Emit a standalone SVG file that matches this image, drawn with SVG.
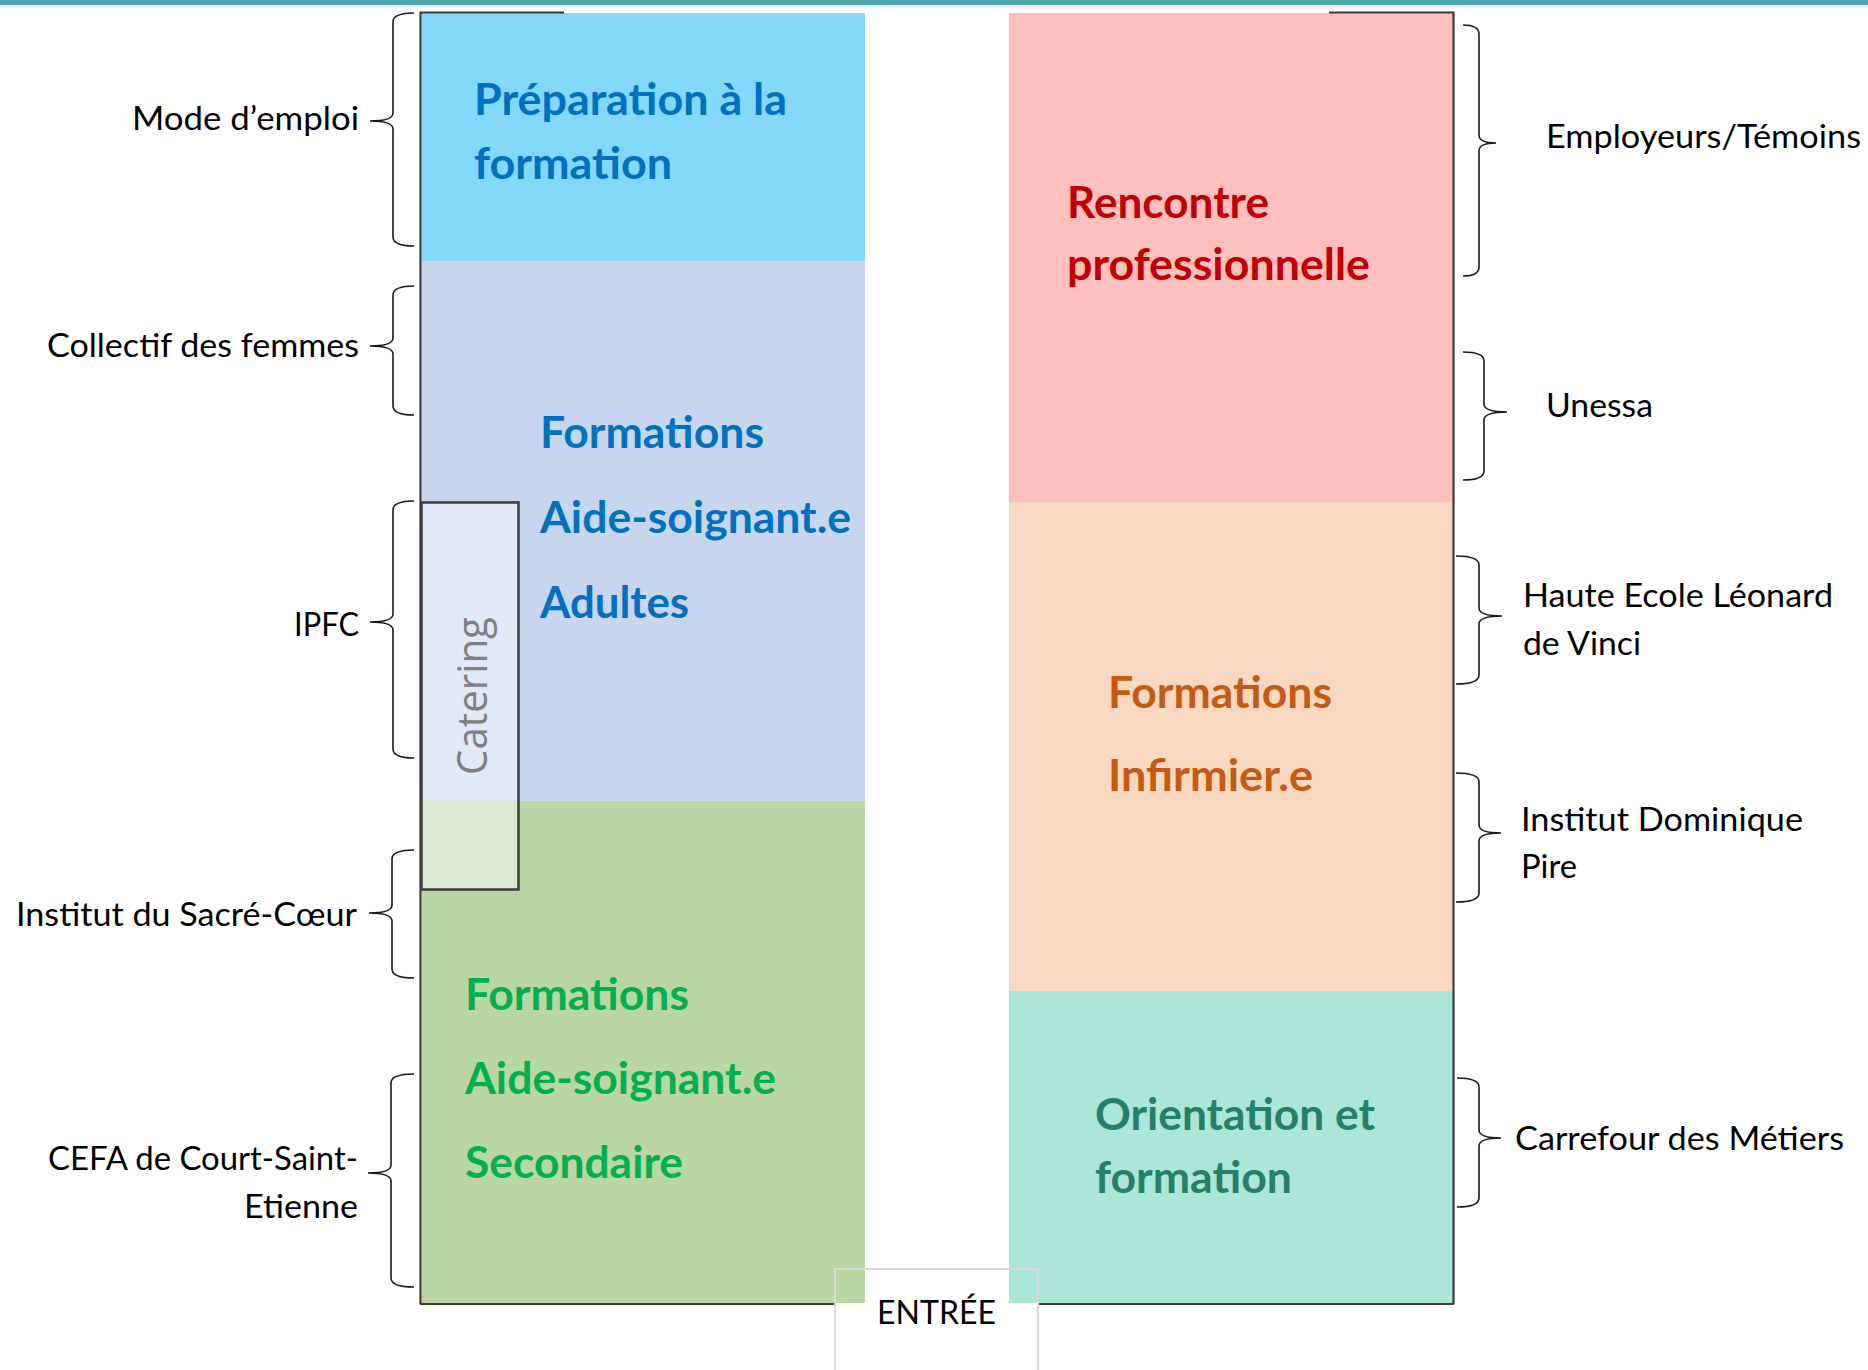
<svg xmlns="http://www.w3.org/2000/svg" width="1868" height="1370" viewBox="0 0 1868 1370">
<defs>
<linearGradient id="shadow" x1="0" y1="0" x2="0" y2="1">
<stop offset="0" stop-color="#000" stop-opacity="0.12"/>
<stop offset="1" stop-color="#000" stop-opacity="0"/>
</linearGradient>
</defs>
<style>
.bold{font-family:Lato,"Open Sans","Liberation Sans",sans-serif;font-weight:bold;font-size:43px}
.lab{font-family:Lato,"Open Sans","Liberation Sans",sans-serif;font-size:33px;fill:#000}
.end{text-anchor:end}
.brace{fill:none;stroke:#1a1a1a;stroke-width:1.6}
.frame{stroke:#3a3a3a;stroke-width:2.2;fill:none}
.blue{fill:#0070C0}
.green{fill:#00B050}
.red{fill:#C00000}
.orange{fill:#C55A11}
.teal{fill:#24806A}
</style>
<rect width="1868" height="1370" fill="#fff"/>
<rect x="0" y="0" width="1868" height="5" fill="#50A9AA"/>
<rect x="0" y="5" width="1868" height="4" fill="url(#shadow)"/>

<g id="left-column">
<g id="preparation">
<rect x="422" y="13" width="443" height="248" fill="#83D7F8"/>
<text class="bold blue" x="474" y="115" textLength="313" lengthAdjust="spacingAndGlyphs">Préparation à la</text>
<text class="bold blue" x="474" y="179" textLength="198" lengthAdjust="spacingAndGlyphs">formation</text>
</g>
<g id="formations-adultes">
<rect x="422" y="261" width="443" height="540" fill="#C7D5ED"/>
<text class="bold blue" x="540" y="448" textLength="224" lengthAdjust="spacingAndGlyphs">Formations</text>
<text class="bold blue" x="540" y="533" textLength="311" lengthAdjust="spacingAndGlyphs">Aide-soignant.e</text>
<text class="bold blue" x="540" y="618" textLength="149" lengthAdjust="spacingAndGlyphs">Adultes</text>
</g>
<g id="formations-secondaire">
<rect x="422" y="801" width="443" height="502" fill="#BAD6A5"/>
<text class="bold green" x="465" y="1010" textLength="224" lengthAdjust="spacingAndGlyphs">Formations</text>
<text class="bold green" x="465" y="1094" textLength="311" lengthAdjust="spacingAndGlyphs">Aide-soignant.e</text>
<text class="bold green" x="465" y="1178" textLength="218" lengthAdjust="spacingAndGlyphs">Secondaire</text>
</g>
<g id="catering">
<rect x="421.5" y="502.5" width="97" height="387" fill="#fff" fill-opacity="0.48" stroke="#404040" stroke-width="2.6"/>
<text transform="translate(487,696) rotate(-90)" x="0" y="0" text-anchor="middle" font-family="'Open Sans','Noto Sans',sans-serif" font-size="42" fill="#7F7F7F" textLength="158" lengthAdjust="spacingAndGlyphs">Catering</text>
</g>
</g>

<g id="right-column">
<g id="rencontre">
<rect x="1009" y="13" width="444" height="489" fill="#FFBFBF"/>
<text class="bold red" x="1067" y="218" textLength="202" lengthAdjust="spacingAndGlyphs">Rencontre</text>
<text class="bold red" x="1067" y="280" textLength="303" lengthAdjust="spacingAndGlyphs">professionnelle</text>
</g>
<g id="infirmier">
<rect x="1009" y="502" width="444" height="489" fill="#F8D8C1"/>
<text class="bold orange" x="1108" y="708" textLength="224" lengthAdjust="spacingAndGlyphs">Formations</text>
<text class="bold orange" x="1108" y="791" textLength="205" lengthAdjust="spacingAndGlyphs">Infirmier.e</text>
</g>
<g id="orientation">
<rect x="1009" y="991" width="444" height="312" fill="#ABE6D7"/>
<text class="bold teal" x="1095" y="1130" textLength="280" lengthAdjust="spacingAndGlyphs">Orientation et</text>
<text class="bold teal" x="1095" y="1193" textLength="197" lengthAdjust="spacingAndGlyphs">formation</text>
</g>
</g>

<g id="frame">
<line class="frame" x1="420.5" y1="12" x2="420.5" y2="1304"/>
<line class="frame" x1="420" y1="12.5" x2="564" y2="12.5"/>
<line class="frame" x1="420" y1="1304" x2="835" y2="1304"/>
<line class="frame" x1="1038" y1="1304" x2="1454" y2="1304"/>
<line class="frame" x1="1453.5" y1="12" x2="1453.5" y2="1304"/>
<line class="frame" x1="1329" y1="12.5" x2="1454" y2="12.5"/>
</g>

<g id="entree">
<path d="M835,1370 L835,1269 L1038,1269 L1038,1370" fill="none" stroke="#D9D9D9" stroke-width="2"/>
<text class="lab" x="936.5" y="1324" text-anchor="middle" textLength="119" lengthAdjust="spacingAndGlyphs">ENTRÉE</text>
</g>

<g id="labels-left">
<g id="mode-emploi"><text class="lab end" x="359" y="130" textLength="227" lengthAdjust="spacingAndGlyphs">Mode d’emploi</text></g>
<g id="collectif"><text class="lab end" x="359" y="357" textLength="312" lengthAdjust="spacingAndGlyphs">Collectif des femmes</text></g>
<g id="ipfc"><text class="lab end" x="359" y="636" textLength="65" lengthAdjust="spacingAndGlyphs">IPFC</text></g>
<g id="sacre-coeur"><text class="lab end" x="357" y="926" textLength="341" lengthAdjust="spacingAndGlyphs">Institut du Sacré-Cœur</text></g>
<g id="cefa">
<text class="lab end" x="358" y="1170" textLength="310" lengthAdjust="spacingAndGlyphs">CEFA de Court-Saint-</text>
<text class="lab end" x="358" y="1218" textLength="114" lengthAdjust="spacingAndGlyphs">Etienne</text>
</g>
</g>

<g id="labels-right">
<g id="employeurs"><text class="lab" x="1546" y="148" textLength="315" lengthAdjust="spacingAndGlyphs">Employeurs/Témoins</text></g>
<g id="unessa"><text class="lab" x="1546" y="417" textLength="107" lengthAdjust="spacingAndGlyphs">Unessa</text></g>
<g id="haute-ecole">
<text class="lab" x="1523" y="607" textLength="310" lengthAdjust="spacingAndGlyphs">Haute Ecole Léonard</text>
<text class="lab" x="1523" y="655" textLength="118" lengthAdjust="spacingAndGlyphs">de Vinci</text>
</g>
<g id="dominique-pire">
<text class="lab" x="1521" y="831" textLength="282" lengthAdjust="spacingAndGlyphs">Institut Dominique</text>
<text class="lab" x="1521" y="878" textLength="56" lengthAdjust="spacingAndGlyphs">Pire</text>
</g>
<g id="carrefour"><text class="lab" x="1515" y="1150" textLength="329" lengthAdjust="spacingAndGlyphs">Carrefour des Métiers</text></g>
</g>

<g id="connectors">
<path class="brace" d="M414,13 Q393,13 393,22 L393,113 Q393,121 370,121 Q393,121 393,129 L393,237 Q393,246 414,246"/>
<path class="brace" d="M414,286 Q393,286 393,295 L393,338 Q393,346 370,346 Q393,346 393,354 L393,406 Q393,415 414,415"/>
<path class="brace" d="M414,501 Q393,501 393,510 L393,614 Q393,622 370,622 Q393,622 393,630 L393,749 Q393,758 414,758"/>
<path class="brace" d="M414,850 Q392,850 392,859 L392,905 Q392,913 369,913 Q392,913 392,921 L392,969 Q392,978 414,978"/>
<path class="brace" d="M414,1074 Q391,1074 391,1083 L391,1165 Q391,1173 368,1173 Q391,1173 391,1181 L391,1278 Q391,1287 414,1287"/>

<path class="brace" d="M1463,25 Q1479,25 1479,34 L1479,135 Q1479,143 1496,143 Q1479,143 1479,151 L1479,267 Q1479,276 1463,276"/>
<path class="brace" d="M1463,352 Q1484,352 1484,361 L1484,404 Q1484,412 1507,412 Q1484,412 1484,420 L1484,471 Q1484,480 1463,480"/>
<path class="brace" d="M1456,556 Q1479,556 1479,565 L1479,608 Q1479,616 1502,616 Q1479,616 1479,624 L1479,675 Q1479,684 1456,684"/>
<path class="brace" d="M1456,773 Q1479,773 1479,782 L1479,825 Q1479,833 1501,833 Q1479,833 1479,841 L1479,893 Q1479,902 1456,902"/>
<path class="brace" d="M1457,1078 Q1479,1078 1479,1087 L1479,1130 Q1479,1138 1501,1138 Q1479,1138 1479,1146 L1479,1198 Q1479,1207 1457,1207"/>
</g>
</svg>
